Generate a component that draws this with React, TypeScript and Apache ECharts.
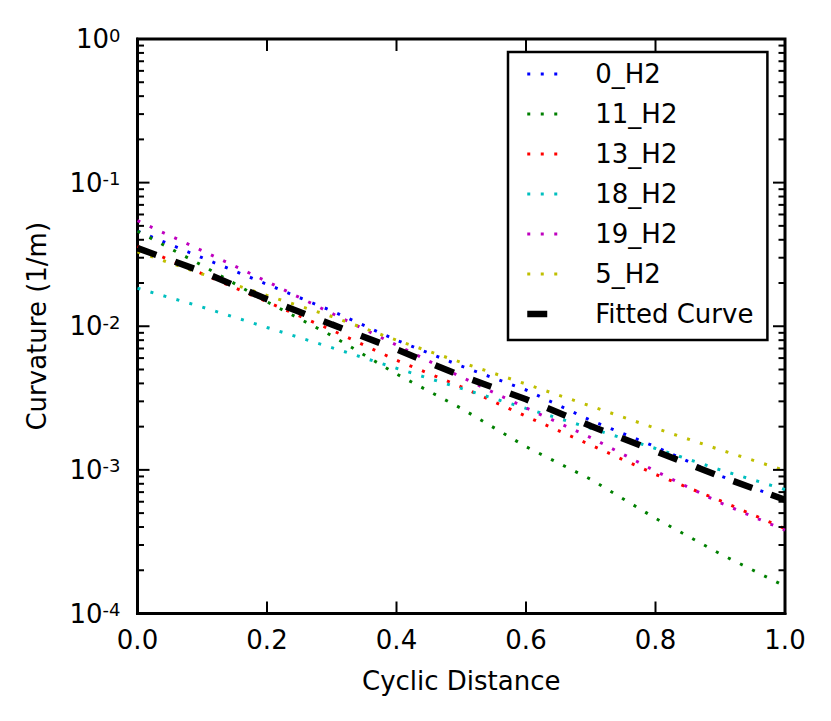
import React, { useEffect, useRef } from "react";
import * as echarts from "echarts";

const FONT = "DejaVu Sans";

const xValues = [0, 0.1, 0.2, 0.3, 0.4, 0.5, 0.6, 0.7, 0.8, 0.9, 1.0];
const seriesNames = ["0_H2", "11_H2", "13_H2", "18_H2", "19_H2", "5_H2"];
const seriesColors = ["#0000ff", "#008000", "#ff0000", "#00bfbf", "#bf00bf", "#bfbf00"];
const s0 = [0.046, 0.030, 0.0196, 0.0128, 0.0080, 0.00528, 0.0036, 0.00221, 0.00145, 0.00091, 0.00062];
const s11 = [0.046, 0.0265, 0.0148, 0.0086, 0.00465, 0.00268, 0.00145, 0.00086, 0.00046, 0.00026, 0.000155];
const s13 = [0.036, 0.0232, 0.0148, 0.0094, 0.0058, 0.00379, 0.00236, 0.00149, 0.00093, 0.00061, 0.00039];
const s18 = [0.0184, 0.0136, 0.0098, 0.0071, 0.0051, 0.00369, 0.00268, 0.00195, 0.00141, 0.0010, 0.00073];
const s19 = [0.0543, 0.0336, 0.0205, 0.0123, 0.0074, 0.00443, 0.0027, 0.00168, 0.00098, 0.00059, 0.00038];
const s5 = [0.033, 0.0231, 0.0164, 0.0117, 0.0080, 0.0056, 0.00396, 0.00278, 0.00195, 0.00138, 0.00099];
const fitted = [0.035, 0.024, 0.0154, 0.0103, 0.0069, 0.00452, 0.0031, 0.00202, 0.00135, 0.0009, 0.00062];
const seriesValues = [s0, s11, s13, s18, s19, s5];

const xTicks = [0, 0.2, 0.4, 0.6, 0.8, 1.0];
const yMin = 1e-4;
const yMax = 1;
const decades = [1e-4, 1e-3, 1e-2, 1e-1, 1];
const minorMultipliers = [2, 3, 4, 5, 6, 7, 8, 9];

export default function App() {
  const ref = useRef<HTMLDivElement>(null);
  useEffect(() => {
    if (!ref.current) return;
    const chart = echarts.init(ref.current, null, { renderer: "svg" });

    const yTickData: number[][] = [];
    decades.forEach((d, i) => {
      yTickData.push([0, d, 1]);
      if (i < decades.length - 1) minorMultipliers.forEach((m) => yTickData.push([0, d * m, 0]));
    });
    const xTickData = xTicks.map((x) => [x, 0.01]);

    const majorLen = 12;
    const minorLen = 6.5;
    const tickStroke = "#000";
    const tickWidth = 2;

    const lineSeries: any[] = seriesNames.map((name, i) => ({
      name,
      type: "line",
      symbol: "none",
      data: xValues.map((x, j) => [x, seriesValues[i][j]]),
      itemStyle: { color: seriesColors[i] },
      lineStyle: { color: seriesColors[i], width: 3, type: [3, 10.5], cap: "butt" },
      z: 2,
    }));
    lineSeries.push({
      name: "Fitted Curve",
      type: "line",
      symbol: "none",
      data: xValues.map((x, j) => [x, fitted[j]]),
      itemStyle: { color: "#000" },
      lineStyle: { color: "#000", width: 6.5, type: [20, 20], cap: "butt" },
      z: 3,
    });
    lineSeries.push({
      name: "yTicks",
      type: "custom",
      silent: true,
      clip: false,
      z: 4,
      encode: { x: 0, y: 1 },
      data: yTickData,
      renderItem: (params: any, api: any) => {
        const v = api.value(1);
        const len = api.value(2) ? majorLen : minorLen;
        const pl = api.coord([0, v]);
        const pr = api.coord([1, v]);
        return {
          type: "group",
          children: [
            { type: "line", shape: { x1: pl[0], y1: pl[1], x2: pl[0] + len, y2: pl[1] }, style: { stroke: tickStroke, lineWidth: tickWidth } },
            { type: "line", shape: { x1: pr[0], y1: pr[1], x2: pr[0] - len, y2: pr[1] }, style: { stroke: tickStroke, lineWidth: tickWidth } },
          ],
        };
      },
    });
    lineSeries.push({
      name: "xTicks",
      type: "custom",
      silent: true,
      clip: false,
      z: 4,
      encode: { x: 0, y: 1 },
      data: xTickData,
      renderItem: (params: any, api: any) => {
        const x = api.value(0);
        const pb = api.coord([x, yMin]);
        const pt = api.coord([x, yMax]);
        return {
          type: "group",
          children: [
            { type: "line", shape: { x1: pb[0], y1: pb[1], x2: pb[0], y2: pb[1] - majorLen }, style: { stroke: tickStroke, lineWidth: tickWidth } },
            { type: "line", shape: { x1: pt[0], y1: pt[1], x2: pt[0], y2: pt[1] + majorLen }, style: { stroke: tickStroke, lineWidth: tickWidth } },
          ],
        };
      },
    });

    chart.setOption({
      animation: false,
      backgroundColor: "#fff",
      grid: {
        left: 137.5,
        top: 39,
        right: 46,
        bottom: 107.5,
        show: true,
        borderColor: "#000",
        borderWidth: 3,
        backgroundColor: "rgba(0,0,0,0)",
      },
      xAxis: {
        type: "value",
        position: "bottom",
        min: 0,
        max: 1,
        interval: 0.2,
        axisLine: { show: true, onZero: false, lineStyle: { color: "#000", width: 3 } },
        axisTick: { show: false },
        splitLine: { show: false },
        axisLabel: {
          color: "#000",
          fontFamily: FONT,
          fontSize: 26,
          margin: 13,
          formatter: (v: number) => v.toFixed(1),
        },
        name: "Cyclic Distance",
        nameLocation: "middle",
        nameGap: 54,
        nameTextStyle: { color: "#000", fontFamily: FONT, fontSize: 26 },
      },
      yAxis: {
        type: "log",
        position: "left",
        min: yMin,
        max: yMax,
        logBase: 10,
        axisLine: { show: true, onZero: false, lineStyle: { color: "#000", width: 3 } },
        axisTick: { show: false },
        splitLine: { show: false },
        axisLabel: {
          margin: 17,
          fontFamily: FONT,
          fontSize: 26,
          color: "#000",
          formatter: (v: number) => `{b|10}{s|${Math.round(Math.log10(v))}}`,
          rich: {
            b: { fontFamily: FONT, fontSize: 26, color: "#000", lineHeight: 26 },
            s: { fontFamily: FONT, fontSize: 18, color: "#000", verticalAlign: "top", lineHeight: 18 },
          },
        },
        name: "Curvature (1/m)",
        nameLocation: "middle",
        nameGap: 88,
        nameTextStyle: { color: "#000", fontFamily: FONT, fontSize: 26 },
      },
      legend: {
        data: [...seriesNames, "Fitted Curve"],
        orient: "vertical",
        left: 508,
        top: 52,
        padding: [9, 14, 13, 16],
        itemWidth: 32,
        itemHeight: 26,
        itemGap: 14,
        selectedMode: false,
        borderColor: "#000",
        borderWidth: 2.5,
        borderRadius: 0,
        backgroundColor: "#fff",
        z: 10,
        itemStyle: { color: "rgba(0,0,0,0)", borderColor: "rgba(0,0,0,0)", borderWidth: 0 },
        lineStyle: { width: "inherit", type: "inherit", color: "inherit" },
        formatter: "{t|{name}}",
        textStyle: {
          color: "#000",
          fontFamily: FONT,
          fontSize: 26,
          rich: {
            t: { color: "#000", fontFamily: FONT, fontSize: 26, lineHeight: 26, padding: [0, 0, 0, 31] },
          },
        },
      },
      series: lineSeries,
    });

    return () => chart.dispose();
  }, []);

  return (
    <div
      ref={ref}
      style={{ position: "absolute", left: 0, top: 0, width: 831, height: 721, background: "#fff" }}
    />
  );
}
